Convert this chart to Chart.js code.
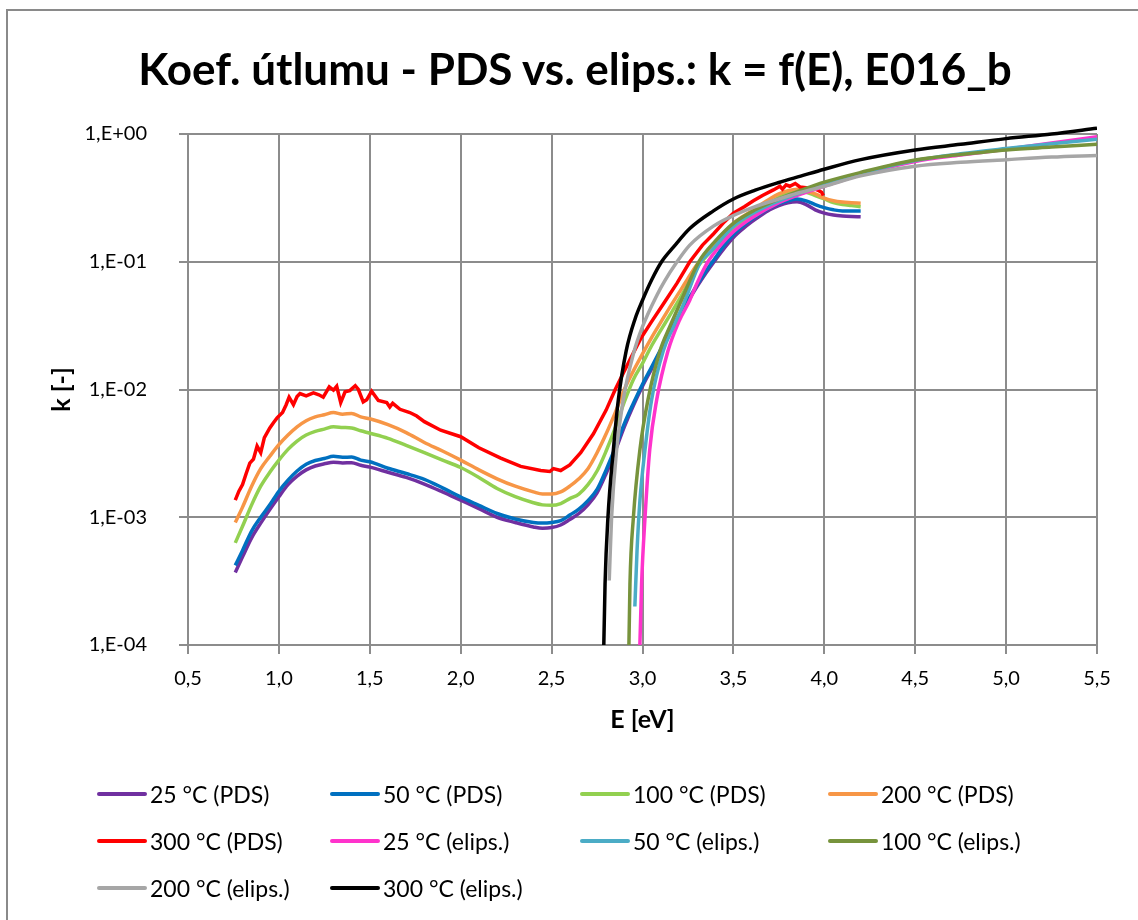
<!DOCTYPE html>
<html>
<head>
<meta charset="utf-8">
<script src="https://cdn.jsdelivr.net/npm/chart.js@4.4.1/dist/chart.umd.min.js"></script>
<style>
  body { margin: 0; background: #fff; }
  #wrap { position: relative; width: 1138px; height: 920px; overflow: hidden; font-family: Lato, sans-serif; }
  #frame { position: absolute; left: 6px; top: 9px; width: 1200px; height: 1000px; border: 2px solid #8a8a8a; }
  #chart { position: absolute; left: 0; top: 0; }
  #title { position: absolute; left: 0; top: 42px; width: 1150px; text-align: center; font-size: 44px; line-height: 53px; font-weight: bold; color: #000; white-space: nowrap; }
  #legend { position: absolute; left: 97px; top: 770px; display: grid; grid-template-columns: 233px 250px 248px 250px; grid-auto-rows: 47px; }
  .item { display: flex; align-items: center; font-size: 23px; color: #000; white-space: nowrap; }
  .swatch { width: 50px; height: 4px; border-radius: 2px; margin-right: 3px; }
</style>
</head>
<body>
<div id="wrap">
  <div id="frame"></div>
  <canvas id="chart" width="1138" height="920"></canvas>
  <div id="title">Koef. útlumu - PDS vs. elips.: k = f(E), E016_b</div>
  <div id="legend"></div>
</div>
<script>
// PDS curves share one energy grid (eV)
const ePds = [0.76,0.80,0.85,0.90,0.95,1.00,1.05,1.10,1.15,1.20,1.25,1.30,1.35,1.40,1.45,1.50,
  1.60,1.70,1.80,1.90,2.00,2.10,2.20,2.30,2.40,
  2.45,2.50,2.55,2.60,2.65,2.70,2.75,2.80,2.85,2.90,2.95,
  3.00,3.05,3.10,3.15,3.20,3.25,3.30,3.35,3.40,3.45,3.50,3.55,3.60,3.65,3.70,3.75,3.80,3.85,3.90,3.95,4.00,4.05,4.10,4.15,4.20];

const k25pds = [3.7e-4,4.9e-4,6.9e-4,9.0e-4,1.15e-3,1.45e-3,1.8e-3,2.1e-3,2.35e-3,2.52e-3,2.62e-3,2.7e-3,2.66e-3,2.67e-3,2.55e-3,2.47e-3,
  2.25e-3,2.05e-3,1.82e-3,1.58e-3,1.36e-3,1.17e-3,1.0e-3,9.1e-4,8.4e-4,
  8.2e-4,8.3e-4,8.7e-4,9.6e-4,1.07e-3,1.25e-3,1.55e-3,2.2e-3,3.3e-3,5.1e-3,7.5e-3,
  1.06e-2,1.45e-2,2.0e-2,2.75e-2,3.7e-2,4.9e-2,6.4e-2,8.2e-2,0.103,0.128,0.155,0.18,0.205,0.23,0.255,0.275,0.29,0.295,0.28,0.255,0.24,0.232,0.228,0.226,0.225];

const k50pds = [4.2e-4,5.5e-4,7.8e-4,1.0e-3,1.25e-3,1.6e-3,1.95e-3,2.3e-3,2.6e-3,2.78e-3,2.88e-3,3.0e-3,2.95e-3,2.96e-3,2.8e-3,2.72e-3,
  2.42e-3,2.2e-3,1.98e-3,1.7e-3,1.44e-3,1.24e-3,1.07e-3,9.7e-4,9.1e-4,
  9.0e-4,9.1e-4,9.4e-4,1.04e-3,1.16e-3,1.35e-3,1.65e-3,2.35e-3,3.5e-3,5.4e-3,7.8e-3,
  1.1e-2,1.5e-2,2.05e-2,2.8e-2,3.8e-2,5.0e-2,6.6e-2,8.5e-2,0.107,0.135,0.163,0.19,0.215,0.24,0.265,0.285,0.30,0.31,0.30,0.28,0.265,0.255,0.25,0.25,0.25];

const k100pds = [6.3e-4,8.5e-4,1.25e-3,1.75e-3,2.25e-3,2.8e-3,3.4e-3,3.95e-3,4.4e-3,4.7e-3,4.9e-3,5.1e-3,5.05e-3,5.0e-3,4.75e-3,4.55e-3,
  4.15e-3,3.65e-3,3.2e-3,2.8e-3,2.45e-3,2.05e-3,1.68e-3,1.45e-3,1.3e-3,
  1.25e-3,1.24e-3,1.28e-3,1.4e-3,1.52e-3,1.8e-3,2.3e-3,3.3e-3,5.0e-3,8.0e-3,1.2e-2,
  1.6e-2,2.2e-2,2.9e-2,3.8e-2,5.0e-2,6.7e-2,9.0e-2,0.11,0.13,0.155,0.18,0.205,0.23,0.26,0.29,0.32,0.345,0.355,0.35,0.33,0.31,0.29,0.28,0.275,0.27];

const k200pds = [9.1e-4,1.2e-3,1.75e-3,2.4e-3,3.0e-3,3.7e-3,4.4e-3,5.1e-3,5.7e-3,6.1e-3,6.35e-3,6.6e-3,6.4e-3,6.5e-3,6.1e-3,5.9e-3,
  5.3e-3,4.6e-3,3.85e-3,3.3e-3,2.8e-3,2.35e-3,2.0e-3,1.75e-3,1.58e-3,
  1.52e-3,1.52e-3,1.58e-3,1.75e-3,2.0e-3,2.4e-3,3.2e-3,4.5e-3,6.6e-3,1.0e-2,1.4e-2,
  1.9e-2,2.55e-2,3.35e-2,4.4e-2,5.7e-2,7.4e-2,9.5e-2,0.115,0.14,0.168,0.2,0.225,0.25,0.28,0.31,0.34,0.36,0.37,0.36,0.34,0.315,0.30,0.293,0.29,0.287];

// 300 °C PDS is noisy, so it keeps its own grid
const e300pds = [0.76,0.78,0.80,0.82,0.84,0.86,0.88,0.90,0.92,0.95,0.97,0.99,1.02,1.04,1.056,1.08,1.10,1.116,1.15,1.19,
  1.22,1.244,1.277,1.30,1.318,1.34,1.364,1.39,1.42,1.437,1.464,1.483,1.51,1.547,1.593,1.61,1.626,1.666,1.72,1.758,
  1.80,1.89,2.00,2.10,2.22,2.33,2.44,2.49,2.51,2.55,2.60,2.66,2.73,2.80,2.85,2.93,2.99,3.05,3.12,3.19,
  3.26,3.33,3.39,3.45,3.50,3.56,3.61,3.66,3.72,3.756,3.77,3.79,3.81,3.84,3.866,3.90,3.94,3.97,3.985,3.995];
const k300pds = [1.36e-3,1.6e-3,1.8e-3,2.2e-3,2.65e-3,2.85e-3,3.6e-3,3.2e-3,4.2e-3,5.0e-3,5.5e-3,6.0e-3,6.6e-3,7.6e-3,8.7e-3,7.6e-3,8.8e-3,9.3e-3,8.9e-3,9.4e-3,
  9.1e-3,8.7e-3,1.05e-2,9.9e-3,1.06e-2,7.9e-3,9.6e-3,9.8e-3,1.07e-2,1.0e-2,8.0e-3,8.3e-3,9.7e-3,8.2e-3,7.9e-3,7.3e-3,7.8e-3,7.0e-3,6.6e-3,6.2e-3,
  5.6e-3,4.8e-3,4.27e-3,3.5e-3,2.9e-3,2.5e-3,2.32e-3,2.28e-3,2.4e-3,2.32e-3,2.57e-3,3.2e-3,4.5e-3,6.9e-3,1.0e-2,1.7e-2,2.5e-2,3.4e-2,4.8e-2,6.8e-2,
  0.1,0.135,0.165,0.205,0.24,0.27,0.30,0.33,0.365,0.39,0.37,0.40,0.39,0.41,0.385,0.38,0.375,0.36,0.35,0.33];

// ellipsometry fits
const e25el = [2.980,2.995,3.014,3.04,3.078,3.14,3.20,3.26,3.30,3.36,3.42,3.50,3.60,3.75,3.90,4.00,4.20,4.50,4.75,5.00,5.25,5.50];
const k25el = [5e-5,3e-4,1e-3,3.4e-3,8.3e-3,2.0e-2,3.4e-2,5.0e-2,6.8e-2,0.1,0.13,0.172,0.22,0.29,0.35,0.39,0.48,0.61,0.685,0.76,0.85,0.95];

const e50el = [2.958,2.97,2.986,3.014,3.05,3.114,3.17,3.224,3.32,3.37,3.50,3.62,3.75,3.90,4.00,4.20,4.50,4.75,5.00,5.25,5.50];
const k50el = [2.0e-4,5.5e-4,1.36e-3,3.4e-3,8.3e-3,2.0e-2,3.1e-2,4.6e-2,0.1,0.118,0.19,0.245,0.30,0.36,0.40,0.49,0.62,0.70,0.77,0.84,0.91];

const e100el = [2.922,2.931,2.95,2.986,3.03,3.096,3.15,3.206,3.31,3.40,3.50,3.62,3.75,3.90,4.00,4.20,4.50,4.75,5.00,5.25,5.50];
const k100el = [5e-5,3e-4,1e-3,3.4e-3,8.3e-3,2.0e-2,3.1e-2,4.7e-2,0.1,0.145,0.2,0.255,0.31,0.375,0.42,0.5,0.625,0.69,0.75,0.79,0.83];

const e200el = [2.817,2.83,2.858,2.894,2.95,3.00,3.08,3.12,3.19,3.26,3.39,3.50,3.62,3.75,3.81,4.00,4.20,4.50,4.75,5.00,5.25,5.50];
const k200el = [3.2e-4,1.0e-3,3.4e-3,8.3e-3,1.9e-2,3.1e-2,5.5e-2,7.0e-2,0.1,0.135,0.19,0.23,0.27,0.31,0.33,0.39,0.47,0.56,0.60,0.63,0.66,0.68];

const e300el = [2.780,2.794,2.81,2.84,2.867,2.91,2.96,3.00,3.05,3.105,3.17,3.26,3.39,3.50,3.62,3.75,3.87,4.00,4.20,4.50,4.75,5.00,5.25,5.50];
const k300el = [3e-5,3e-4,1e-3,3.4e-3,8.3e-3,2.0e-2,3.6e-2,5.0e-2,7.2e-2,0.1,0.13,0.182,0.25,0.31,0.363,0.417,0.468,0.53,0.63,0.75,0.83,0.92,1.0,1.11];

const yTicks = [1e-4, 1e-3, 1e-2, 1e-1, 1];

const series = [
  { name: '25 °C (PDS)',     e: ePds,    k: k25pds,  color: '#7030A0' },
  { name: '50 °C (PDS)',     e: ePds,    k: k50pds,  color: '#0070C0' },
  { name: '100 °C (PDS)',    e: ePds,    k: k100pds, color: '#92D050' },
  { name: '200 °C (PDS)',    e: ePds,    k: k200pds, color: '#F79646' },
  { name: '300 °C (PDS)',    e: e300pds, k: k300pds, color: '#FF0000', raw: true },
  { name: '25 °C (elips.)',  e: e25el,   k: k25el,   color: '#FF33CC' },
  { name: '50 °C (elips.)',  e: e50el,   k: k50el,   color: '#4BACC6' },
  { name: '100 °C (elips.)', e: e100el,  k: k100el,  color: '#77933C' },
  { name: '200 °C (elips.)', e: e200el,  k: k200el,  color: '#A6A6A6' },
  { name: '300 °C (elips.)', e: e300el,  k: k300el,  color: '#000000' }
];

const FONT = 'Lato, "Open Sans", sans-serif';
const GRID = '#8c8c8c';

const datasets = series.map((s, i) => ({
  label: s.name,
  data: s.e.map((x, j) => ({ x: x, y: s.k[j] })),
  borderColor: s.color,
  backgroundColor: s.color,
  borderWidth: 3.5,
  pointRadius: 0,
  showLine: true,
  cubicInterpolationMode: s.raw ? 'default' : 'monotone',
  tension: 0,
  order: -i,                       // later series on top
  clip: { left: 0, top: false, right: 0, bottom: 0 }
}));

new Chart(document.getElementById('chart'), {
  type: 'scatter',
  data: { datasets: datasets },
  options: {
    responsive: false,
    animation: false,
    layout: { padding: { left: 0, right: 41, top: 134, bottom: 175 } },
    plugins: {
      legend: { display: false },
      tooltip: { enabled: false },
      title: { display: false }
    },
    scales: {
      x: {
        type: 'linear',
        min: 0.5, max: 5.5,
        ticks: {
          stepSize: 0.5,
          color: '#000',
          padding: 13,
          font: { family: FONT, size: 20 },
          callback: v => v.toFixed(1).replace('.', ',')
        },
        grid: { color: GRID, lineWidth: 2, tickLength: 9 },
        border: { color: GRID, width: 2 },
        title: {
          display: true, text: 'E [eV]', color: '#000',
          font: { family: FONT, size: 25, weight: 'bold', lineHeight: 1.2 },
          padding: { top: 0, bottom: 10 }
        },
        afterFit: s => { s.height = 100; }
      },
      y: {
        type: 'logarithmic',
        min: 1e-4, max: 1,
        afterBuildTicks: s => { s.ticks = yTicks.map(v => ({ value: v })); },
        ticks: {
          color: '#000',
          padding: 32,
          font: { family: FONT, size: 20 },
          callback: v => '1,E' + (v >= 1 ? '+' : '-') + String(Math.abs(Math.round(Math.log10(v)))).padStart(2, '0')
        },
        grid: { color: GRID, lineWidth: 2, tickLength: 9 },
        border: { color: GRID, width: 2 },
        title: {
          display: true, text: 'k [-]', color: '#000',
          font: { family: FONT, size: 25, weight: 'bold', lineHeight: 1.2 },
          padding: { top: 47, bottom: 0 }
        },
        afterFit: s => { s.width = 188; }
      }
    }
  }
});

// legend laid out in an Excel-like grid under the plot
const legend = document.getElementById('legend');
series.forEach(s => {
  const item = document.createElement('div');
  item.className = 'item';
  const sw = document.createElement('span');
  sw.className = 'swatch';
  sw.style.background = s.color;
  item.appendChild(sw);
  item.appendChild(document.createTextNode(s.name));
  legend.appendChild(item);
});
</script>
</body>
</html>
